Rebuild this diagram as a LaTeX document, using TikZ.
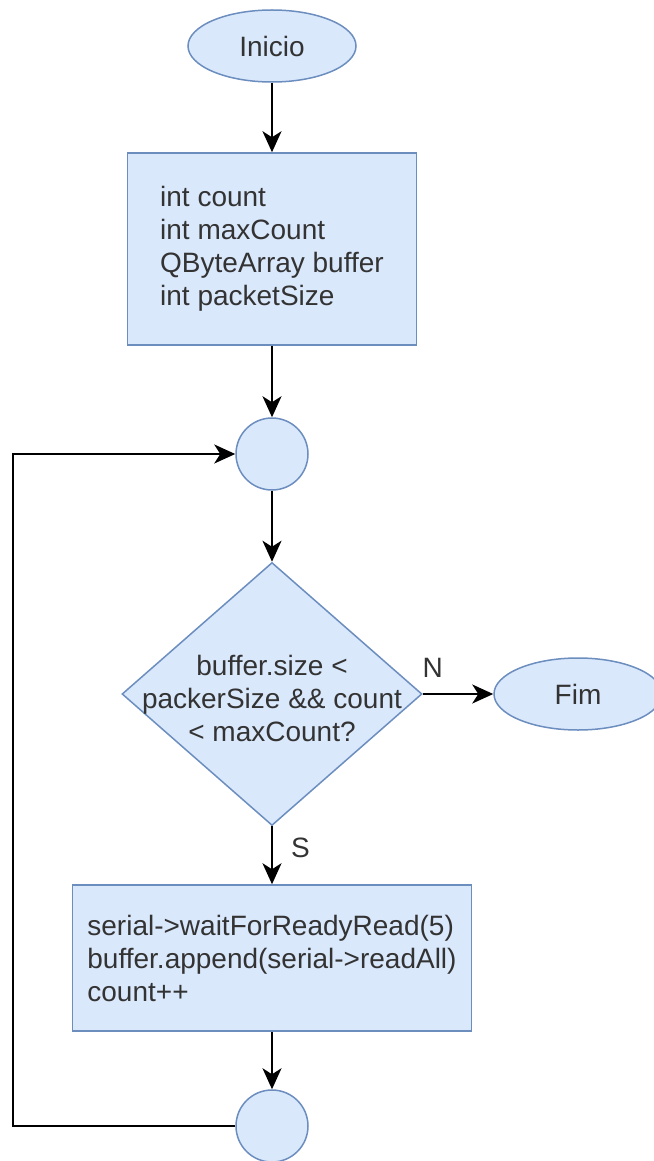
\documentclass[tikz,border=0pt]{standalone}
\usepackage{fontspec}
\setmainfont{Liberation Sans}
\usetikzlibrary{shapes.geometric,arrows.meta}
\definecolor{boxfill}{HTML}{DAE8FC}
\definecolor{boxline}{HTML}{6C8EBF}
\definecolor{txt}{HTML}{333333}
\tikzset{
	base/.style={draw=boxline,fill=boxfill,line width=1.5pt,text=txt,font=\fontsize{28}{33}\selectfont},
	term/.style={base,ellipse,minimum width=168pt,minimum height=72pt,inner sep=0pt},
	proc/.style 2 args={base,rectangle,align=left,minimum width=#1,minimum height=#2},
	joint/.style={base,circle,minimum size=72pt,inner sep=0pt},
	dec/.style={base,diamond,minimum width=300pt,minimum height=263pt,inner sep=0pt},
	lbl/.style={inner sep=2pt,text=txt,font=\fontsize{28}{33}\selectfont},
	flow/.style={line width=2pt,-{Stealth[length=21pt,width=19pt,inset=6pt]}}
}

\begin{document}
\begin{tikzpicture}[x=1pt,y=-1pt]
						\useasboundingbox (0,0) rectangle (653,1161);
						\node [term] (start) at (272,46) {Inicio};
						\node [proc={289pt}{192pt}] (decl) at (272,249) {int count\\int maxCount\\QByteArray buffer\\int packetSize};
						\node [joint] (j1) at (272,454) {};
						\node [dec,label={[lbl,align=center,yshift=-4pt]center:{buffer.size <\\packerSize \&\& count\\< maxCount?}}] (cond) at (272,694) {};
						\node [term] (fim) at (578,694) {Fim};
						\node [proc={399pt}{146pt}] (body) at (272,958) {serial->waitForReadyRead(5)\\buffer.append(serial->readAll)\\count++};
						\node [joint] (j2) at (272,1126) {};
						\coordinate (back) at (13,1126);

						\draw [flow] (start) -- (decl);
						\draw [flow] (decl) -- (j1);
						\draw [flow] (j1) -- (cond);
						\draw [flow] (cond) -- node [lbl,pos=0.14,above=14pt] {N} (fim);
						\draw [flow] (cond) -- node [lbl,pos=0.37,right=16pt] {S} (body);
						\draw [flow] (body) -- (j2);
						\draw [flow] (j2) -- (back) |- (j1);
					\end{tikzpicture}
\end{document}
